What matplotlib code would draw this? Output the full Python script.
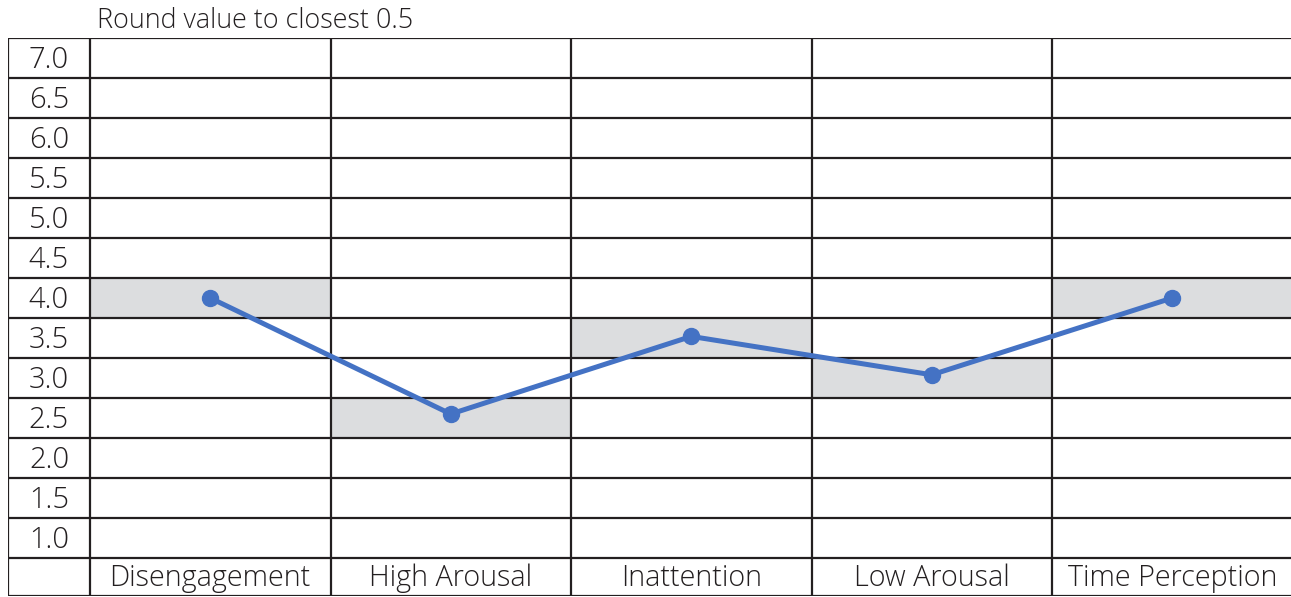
import numpy as np
import matplotlib
matplotlib.use("Agg")
import matplotlib.pyplot as plt
from matplotlib.patches import Rectangle

plt.rcParams['font.family'] = ['Open Sans', 'DejaVu Sans']

categories = ["Disengagement", "High Arousal", "Inattention", "Low Arousal", "Time Perception"]
scores = [4.0, 2.55, 3.52, 3.04, 4.0]
row_labels = [7.0, 6.5, 6.0, 5.5, 5.0, 4.5, 4.0, 3.5, 3.0, 2.5, 2.0, 1.5, 1.0]
title = "Round value to closest 0.5"

grid_color = "#231f20"
shade_color = "#dcdddf"
line_color = "#4472c4"
text_color = "#231f20"

fig = plt.figure(figsize=(12.91, 5.97), dpi=100)
# table frame in pixels: x 8..1292.5 (right edge just outside), y 38..596
col_px = 240.5
label_px = 82
ax = fig.add_axes([8 / 1291, 1 - 596 / 597, (label_px + 5 * col_px) / 1291, 558 / 597])
label_w = label_px / col_px
y_top = max(row_labels) + 0.25
y_bot = y_top - 558 / 80
ax.set_xlim(-label_w, len(categories))
ax.set_ylim(y_bot, y_top)
ax.axis("off")

# shaded cells at rounded values
rounded = np.round(np.array(scores) * 2) / 2
for i, r in enumerate(rounded):
    ax.add_patch(Rectangle((i, r - 0.25), 1, 0.5, facecolor=shade_color, edgecolor="none", zorder=1))

# grid lines
x_lines = [-label_w] + list(range(len(categories) + 1))
for x in x_lines:
    ax.plot([x, x], [y_bot, y_top], color=grid_color, lw=1.6, zorder=2, solid_capstyle="projecting")
y_lines = [v + 0.25 for v in row_labels] + [min(row_labels) - 0.25, y_bot]
for y in y_lines:
    ax.plot([-label_w, len(categories)], [y, y], color=grid_color, lw=1.6, zorder=2, solid_capstyle="projecting")

# row labels (baseline ~10px above cell bottom)
for v in row_labels:
    ax.text(-label_w / 2, v - 0.125, f"{v:.1f}", ha="center", va="baseline", fontsize=21, fontweight="light", color=text_color)

# category labels
for i, c in enumerate(categories):
    ax.text(i + 0.5, y_bot + 0.125, c, ha="center", va="baseline", fontsize=20.7, fontweight="light", color=text_color)

# data line
xs = np.arange(len(categories)) + 0.5
ax.plot(xs, scores, color=line_color, lw=3.6, marker="o", markersize=11.5, zorder=3, clip_on=False)

fig.text(97 / 1291, 1 - 28 / 597, title, ha="left", va="baseline", fontsize=19.4, fontweight="light", color=text_color)

fig.savefig("out.png", dpi=100)
